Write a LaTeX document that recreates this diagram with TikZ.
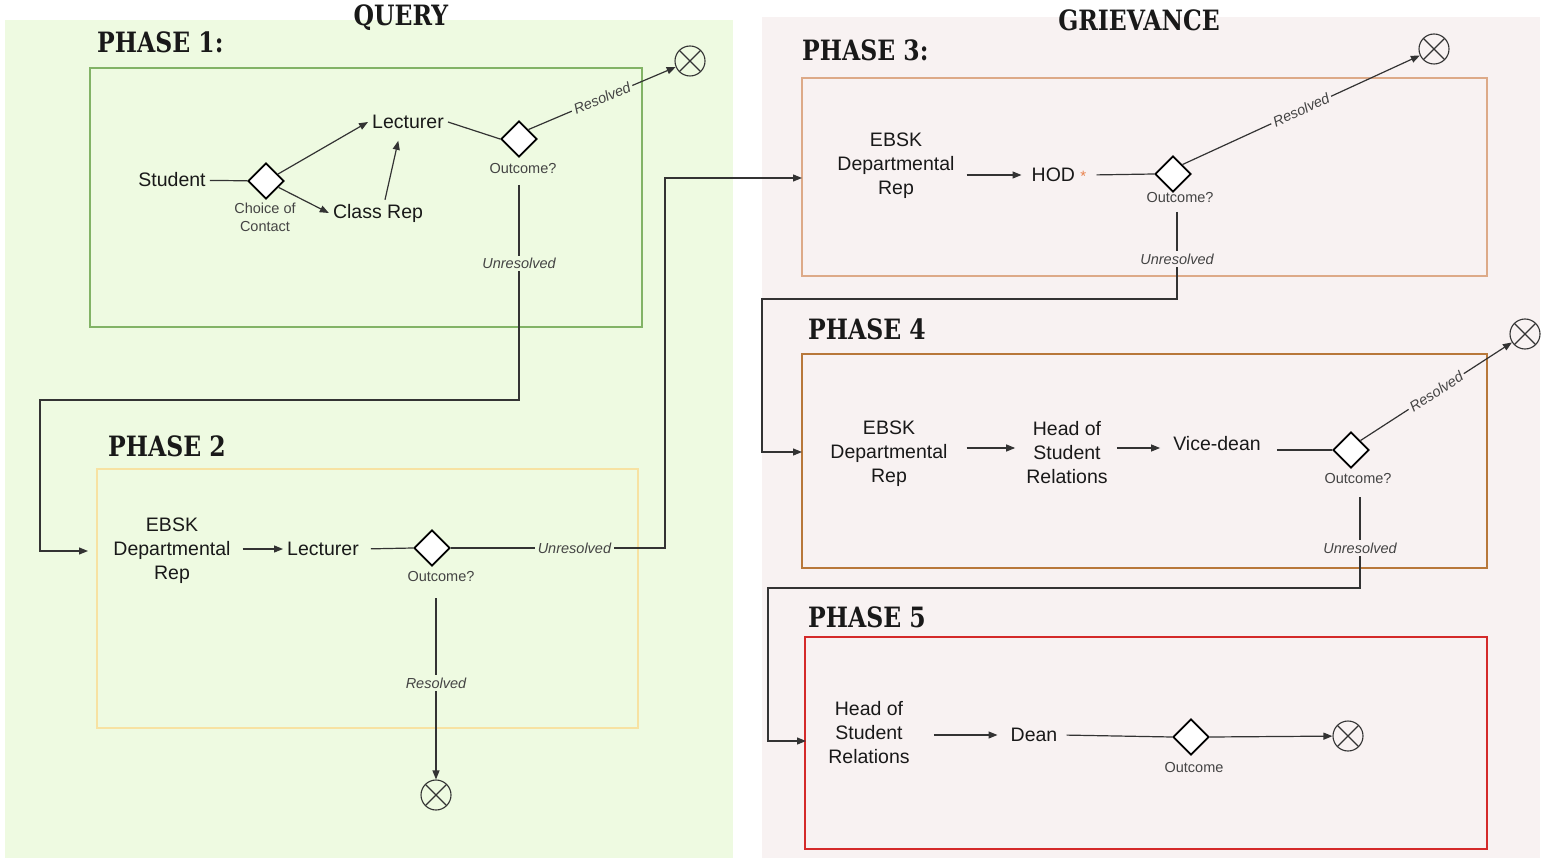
\documentclass[tikz,border=0pt]{standalone}
\usepackage{fontspec}
\setmainfont{Liberation Sans}
\newfontfamily\headfont[FakeStretch=0.84]{DejaVu Serif}
\usetikzlibrary{shapes.geometric,arrows.meta}

\definecolor{querybg}{HTML}{EEFAE1}
\definecolor{grievbg}{HTML}{F8F2F2}
\definecolor{pone}{HTML}{82B366}
\definecolor{ptwo}{HTML}{F7E2A2}
\definecolor{pthree}{HTML}{DDAA88}
\definecolor{pfour}{HTML}{B8783A}
\definecolor{pfive}{HTML}{D42A2A}
\definecolor{linegray}{HTML}{333333}
\definecolor{labgray}{HTML}{444444}
\definecolor{ast}{HTML}{E8804A}

\tikzset{
  head/.style={font=\headfont\bfseries\fontsize{28}{30}\selectfont, inner sep=0pt, text=black!90},
  actor/.style={font=\fontsize{19.5}{24}\selectfont, align=center, inner sep=4pt, text=black!90},
  gate/.style={diamond, draw=black, line width=1.8pt, fill=white, minimum size=36pt, inner sep=0pt},
  note/.style={font=\fontsize{14.5}{18}\selectfont, text=labgray, align=center, inner sep=0pt},
  verdict/.style={font=\fontsize{14.5}{17}\selectfont\itshape, text=labgray, inner sep=2.5pt, fill=#1},
  verdict/.default=white,
  endstate/.style={circle, draw=linegray, line width=1.1pt, minimum size=30pt, inner sep=0pt,
    path picture={\draw[linegray, line width=1.1pt]
      (path picture bounding box.north west) -- (path picture bounding box.south east)
      (path picture bounding box.north east) -- (path picture bounding box.south west);}},
  conn/.style={draw=linegray, line width=1.2pt},
  flow/.style={conn, -{Triangle[length=9pt,width=7pt]}},
  phasebox/.style={draw=#1, line width=1.6pt},
}

\begin{document}
\begin{tikzpicture}[x=1pt, y=-1pt]
\useasboundingbox (0,0) rectangle (1549,858);

% two background panels
\fill[querybg] (5,20) rectangle (733,858);
\fill[grievbg] (762,17) rectangle (1540,858);

% phase frames
\draw[phasebox=pone]   (90,68)   rectangle (642,327);
\draw[phasebox=ptwo]   (97,469)  rectangle (638,728);
\draw[phasebox=pthree] (802,78)  rectangle (1487,276);
\draw[phasebox=pfour]  (802,354) rectangle (1487,568);
\draw[phasebox=pfive]  (805,637) rectangle (1487,849);

% headings
\node[head] (query) at (401,18) {QUERY};
\node[head] (grievance) at (1139,20) {GRIEVANCE};
\node[head, anchor=west] (ph1) at (97,42) {PHASE 1:};
\node[head, anchor=west] (ph2) at (108,446) {PHASE 2};
\node[head, anchor=west] (ph3) at (802,50) {PHASE 3:};
\node[head, anchor=west] (ph4) at (808,329) {PHASE 4};
\node[head, anchor=west] (ph5) at (808,617) {PHASE 5};

% ---------- Phase 1 ----------
\node[actor] (student) at (172,180) {Student};
\node[gate] (choice) at (266,181) {};
\node[note] (choicelab) at (265,217) {Choice of\\Contact};
\node[actor] (lect1) at (408,122) {Lecturer};
\node[actor] (crep) at (378,213) {Class Rep};
\node[gate] (out1) at (519,139) {};
\node[note] (out1lab) at (523,169) {Outcome?};
\node[endstate] (end1) at (690,61) {};

\draw[conn] (student) -- (choice);
\draw[flow] (choice) -- (lect1.west);
\draw[flow] (choice) -- (crep.west);
\draw[flow, shorten >=8pt] ([xshift=7pt]crep.north) -- ([xshift=-8pt]lect1.south);
\draw[conn] (lect1.east) -- (out1.west);
\draw[flow] (out1.north east) -- node[verdict=querybg, sloped] {Resolved} (end1);

\coordinate (u1a) at (519,185);
\coordinate (u1b) at (519,400);
\coordinate (u1c) at (40,400);
\coordinate (p2in) at (88,551);
\draw[flow] (u1a) -- node[verdict=querybg, pos=0.365] {Unresolved} (u1b) -- (u1c) |- (p2in);

% ---------- Phase 2 ----------
\node[actor] (ebsk2) at (172,551) {EBSK\\Departmental\\Rep};
\node[actor] (lect2) at (323,549) {Lecturer};
\node[gate] (out2) at (432,548) {};
\node[note] (out2lab) at (441,577) {Outcome?};
\node[endstate] (end2) at (436,795) {};

\draw[flow, shorten <=8pt] (ebsk2.east |- lect2.west) -- (lect2.west);
\draw[conn, shorten <=8pt] (lect2.east) -- (out2.west);

\coordinate (u2a) at (665,548);
\coordinate (p3in) at (802,178);
\draw[flow] (out2.east) -- node[verdict=querybg, pos=0.577] {Unresolved} (u2a) |- (p3in);

\coordinate (r2a) at (436,598);
\draw[flow] (r2a) -- node[verdict=querybg, pos=0.47] {Resolved} (end2);

% ---------- Phase 3 ----------
\node[actor] (ebsk3) at (896,166) {EBSK\\Departmental\\Rep};
\node[actor] (hod) at (1059,175) {HOD {\color{ast}\fontsize{15}{15}\selectfont *}};
\node[gate] (out3) at (1173,174) {};
\node[note] (out3lab) at (1180,198) {Outcome?};
\node[endstate] (end3) at (1434,49) {};

\draw[flow, shorten <=8pt, shorten >=6pt] (ebsk3.east |- hod.west) -- (hod.west);
\draw[conn, shorten <=6pt] (hod.east) -- (out3.west);
\draw[flow] (out3.north east) -- node[verdict=grievbg, sloped] {Resolved} (end3);

\coordinate (u3a) at (1177,212);
\coordinate (u3b) at (1177,299);
\coordinate (u3c) at (762,299);
\coordinate (p4in) at (802,452);
\draw[flow] (u3a) -- node[verdict=grievbg, pos=0.54] {Unresolved} (u3b) -- (u3c) |- (p4in);

% ---------- Phase 4 ----------
\node[actor] (ebsk4) at (889,454) {EBSK\\Departmental\\Rep};
\node[actor] (hsr4) at (1067,453) {Head of\\Student\\Relations};
\node[actor] (vdean) at (1217,444) {Vice-dean};
\node[gate] (out4) at (1351,450) {};
\node[note] (out4lab) at (1358,479) {Outcome?};
\node[endstate] (end4) at (1525,334) {};

\draw[flow, shorten <=15pt, shorten >=7pt] ([yshift=6pt]ebsk4.east) -- ([yshift=5pt]hsr4.west);
\draw[flow, shorten <=5pt, shorten >=9pt] ([yshift=5pt]hsr4.east) -- (vdean.west |- 0,448);
\draw[conn, shorten <=12pt] (vdean.east |- out4.west) -- (out4.west);
\draw[flow] (out4.north east) -- node[verdict=grievbg, sloped] {Resolved} (end4);

\coordinate (u4a) at (1360,497);
\coordinate (u4b) at (1360,588);
\coordinate (u4c) at (768,588);
\coordinate (p5in) at (806,741);
\draw[flow] (u4a) -- node[verdict=grievbg, pos=0.56] {Unresolved} (u4b) -- (u4c) |- (p5in);

% ---------- Phase 5 ----------
\node[actor] (hsr5) at (869,733) {Head of\\Student\\Relations};
\node[actor] (dean) at (1034,735) {Dean};
\node[gate] (out5) at (1191,737) {};
\node[note] (out5lab) at (1194,768) {Outcome};
\node[endstate] (end5) at (1348,736) {};

\draw[flow, shorten <=20pt, shorten >=9pt] (hsr5.east |- dean.west) -- (dean.west);
\draw[conn, shorten <=5pt] (dean.east) -- (out5.west);
\draw[flow] (out5.east) -- (end5);

\end{tikzpicture}
\end{document}
